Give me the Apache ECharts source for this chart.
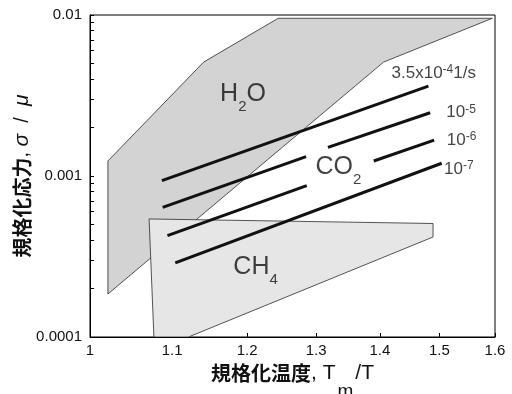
<!DOCTYPE html>
<html><head><meta charset="utf-8">
<script src="https://cdn.jsdelivr.net/npm/echarts@6/dist/echarts.min.js"></script>
<style>html,body{margin:0;padding:0;background:#fff}#c{width:512px;height:394px}</style>
</head><body><div id="c"></div>
<script>
// ---- data ----
const xTickValues = [1, 1.1, 1.2, 1.3, 1.4, 1.5, 1.6];
const yTickValues = [0.0001, 0.0002, 0.0003, 0.0004, 0.0005, 0.0006, 0.0007, 0.0008, 0.0009,
                     0.001, 0.002, 0.003, 0.004, 0.005, 0.006, 0.007, 0.008, 0.009, 0.01];
const yLabelValues = [0.0001, 0.001, 0.01];

// H2O region (polygon vertices)
const h2oX = [1.021, 1.021, 1.141, 1.244, 1.595, 1.406];
const h2oY = [1.85e-4, 1.24e-3, 5.10e-3, 9.54e-3, 9.54e-3, 5.10e-3];
// CH4 region
const ch4X = [1.071, 1.489, 1.489, 1.121, 1.077];
const ch4Y = [5.41e-4, 5.07e-4, 4.18e-4, 1.0e-4, 1.0e-4];

// CO2 strain-rate lines (segments)
const rate1X = [1.087, 1.481];  const rate1Y = [9.35e-4, 3.62e-3];
const rate2aX = [1.088, 1.285]; const rate2aY = [6.39e-4, 1.318e-3];
const rate2bX = [1.318, 1.484]; const rate2bY = [1.507e-3, 2.47e-3];
const rate3aX = [1.094, 1.286]; const rate3aY = [4.26e-4, 8.71e-4];
const rate3bX = [1.390, 1.491]; const rate3bY = [1.24e-3, 1.67e-3];
const rate4X = [1.104, 1.504];  const rate4Y = [2.89e-4, 1.20e-3];

const rateLabelText = ['{m|3.5x10}{p|-4}{m|1/s}', '{m|10}{p|-5}', '{m|10}{p|-6}', '{m|10}{p|-7}'];
const rateLabelX = [1.419, 1.512, 1.513, 1.508];
const rateLabelY = [4.36e-3, 2.47e-3, 1.67e-3, 1.105e-3];

const regionLabelText = ['{m|H}{s|2}{m|O}', '{m|CO}{s|2}', '{m|CH}{s|4}'];
const regionLabelX = [1.163, 1.299, 1.181];
const regionLabelY = [3.23e-3, 1.137e-3, 2.72e-4];

// ---- chart ----
const LAT = '"Liberation Sans", Arial, sans-serif';
const CJK = '"Noto Sans CJK JP", "Noto Sans CJK SC", sans-serif';
const zip = (xs, ys) => xs.map((x, i) => [x, ys[i]]);

function polygonSeries(xs, ys, fill, z) {
  return {
    type: 'custom', z: z, silent: true, clip: true,
    data: [[xs[0], ys[0]]],
    renderItem: function (params, api) {
      const pts = xs.map((x, i) => api.coord([x, ys[i]]));
      return { type: 'polygon', shape: { points: pts },
               style: { fill: fill, stroke: '#2a2a2a', lineWidth: 0.8 } };
    }
  };
}
function lineSeries(xs, ys) {
  return { type: 'line', z: 5, silent: true, symbol: 'none', data: zip(xs, ys),
           lineStyle: { color: '#111', width: 3, cap: 'butt' } };
}
function labelSeries(xs, ys, texts, rich) {
  return {
    type: 'scatter', z: 6, silent: true, symbolSize: 0,
    data: xs.map((x, i) => ({ value: [x, ys[i]], label: { formatter: texts[i] } })),
    label: { show: true, position: [0, 0], align: 'left', verticalAlign: 'middle', rich: rich }
  };
}

const chart = echarts.init(document.getElementById('c'), null, { renderer: 'canvas' });
chart.setOption({
  animation: false,
  backgroundColor: '#fff',
  grid: { left: 90, top: 15, right: 17, bottom: 57, show: true, borderColor: '#000', borderWidth: 1,
          containLabel: false, outerBoundsMode: 'none' },
  xAxis: {
    type: 'log', logBase: 10, min: 1, max: 1.6,
    axisLine: { show: true, lineStyle: { color: '#000', width: 1 } },
    axisTick: { show: true, inside: true, length: 4, customValues: xTickValues, lineStyle: { color: '#000' } },
    axisLabel: { customValues: xTickValues, fontSize: 15, color: '#111', fontFamily: LAT, margin: 6,
                 formatter: v => String(Math.round(v * 10) / 10) },
    splitLine: { show: false }, minorTick: { show: false },
    name: '{c|規格化温度}{l|, T}{s|m}{l|/T}', nameLocation: 'middle', nameGap: 8,
    nameTextStyle: { rich: {
      c: { fontFamily: CJK, fontWeight: 'bold', fontSize: 20, color: '#111', lineHeight: 56 },
      l: { fontFamily: LAT, fontSize: 21, color: '#111', lineHeight: 56 },
      s: { fontFamily: LAT, fontSize: 19, color: '#111', lineHeight: 20, verticalAlign: 'bottom', padding: [0, 2, 0, 2] }
    } }
  },
  yAxis: {
    type: 'log', logBase: 10, min: 0.0001, max: 0.01,
    axisLine: { show: true, lineStyle: { color: '#000', width: 1 } },
    axisTick: { show: true, inside: true, length: 4, customValues: yTickValues, lineStyle: { color: '#000' } },
    axisLabel: { customValues: yLabelValues, fontSize: 15, color: '#111', fontFamily: LAT, margin: 8,
                 formatter: v => String(+(+v).toPrecision(1)) },
    splitLine: { show: false }, minorTick: { show: false },
    name: '{c|規格化応力}{l|, }{g|σ}{l|  /  }{g|μ}', nameLocation: 'middle', nameGap: 57, nameRotate: 90,
    nameMoveOverlap: false,
    nameTextStyle: { rich: {
      c: { fontFamily: CJK, fontWeight: 'bold', fontSize: 20, color: '#111' },
      l: { fontFamily: LAT, fontSize: 20, color: '#111' },
      g: { fontFamily: LAT, fontSize: 21, fontStyle: 'italic', color: '#111' }
    } }
  },
  series: [
    polygonSeries(h2oX, h2oY, '#d3d3d3', 1),
    polygonSeries(ch4X, ch4Y, '#e6e6e6', 2),
    lineSeries(rate1X, rate1Y),
    lineSeries(rate2aX, rate2aY), lineSeries(rate2bX, rate2bY),
    lineSeries(rate3aX, rate3aY), lineSeries(rate3bX, rate3bY),
    lineSeries(rate4X, rate4Y),
    labelSeries(rateLabelX, rateLabelY, rateLabelText, {
      m: { fontFamily: LAT, fontSize: 17, color: '#111', lineHeight: 19 },
      p: { fontFamily: LAT, fontSize: 12, color: '#111', lineHeight: 13, verticalAlign: 'top' }
    }),
    labelSeries(regionLabelX, regionLabelY, regionLabelText, {
      m: { fontFamily: LAT, fontSize: 25, color: '#111', lineHeight: 40 },
      s: { fontFamily: LAT, fontSize: 15, color: '#111', lineHeight: 18, verticalAlign: 'bottom' }
    })
  ]
});
</script></body></html>
